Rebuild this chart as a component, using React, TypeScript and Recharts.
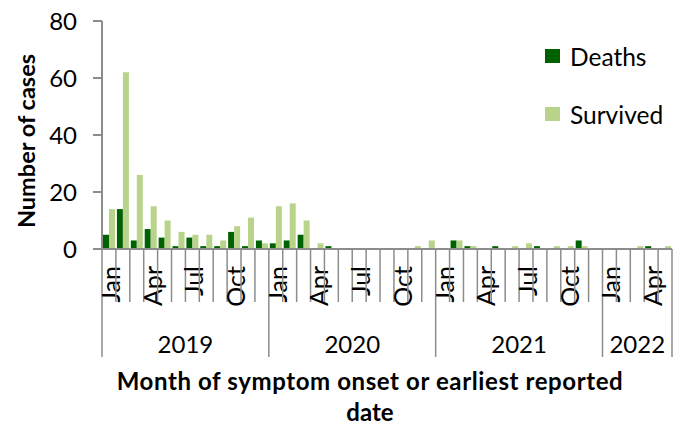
import React from 'react';
import { BarChart, Bar, XAxis, YAxis, Label } from 'recharts';

const monthNames = ['Jan', 'Feb', 'Mar', 'Apr', 'May', 'Jun', 'Jul', 'Aug', 'Sep', 'Oct', 'Nov', 'Dec'];
const years = ['2019', '2020', '2021', '2022'];
const monthsInYear = [12, 12, 12, 5];
const labelledMonths = ['Jan', 'Apr', 'Jul', 'Oct'];

const deaths = [
  5, 14, 3, 7, 4, 1, 4, 1, 1, 6, 1, 3,
  2, 3, 5, 0, 1, 0, 0, 0, 0, 0, 0, 0,
  0, 3, 1, 0, 1, 0, 0, 1, 0, 0, 3, 0,
  0, 0, 0, 1, 0,
];
const survived = [
  14, 62, 26, 15, 10, 6, 5, 5, 3, 8, 11, 2,
  15, 16, 10, 2, 0, 0, 0, 0, 0, 0, 1, 3,
  0, 3, 1, 0, 0, 1, 2, 0, 1, 1, 1, 0,
  0, 0, 1, 0, 1,
];
const yTicks = [0, 20, 40, 60, 80];

const seriesNames = ['Deaths', 'Survived'];
const seriesKeys = ['deaths', 'survived'];
const seriesColors = ['#006100', '#b9d38a'];

type Row = { id: number; year: string; month: string; first: boolean; yearLen: number; deaths: number; survived: number };
const data: Row[] = [];
{
  let k = 0;
  years.forEach((yr, yi) => {
    for (let m = 0; m < monthsInYear[yi]; m++) {
      data.push({ id: k, year: yr, month: monthNames[m], first: m === 0, yearLen: monthsInYear[yi], deaths: deaths[k], survived: survived[k] });
      k++;
    }
  });
}

const FONT = 'Lato, "Open Sans", sans-serif';
const AXIS = '#8c8c8c';
const W = 682;
const H = 428;
const MARGIN = { top: 21, right: 10, left: 2, bottom: 0 };
const YW = 100;
const XH = 179;

const MonthTick = (props: any) => {
  const { x, y, payload } = props;
  const d = data[payload.value];
  if (!d) return null;
  const half = payload.offset || (W - MARGIN.left - YW - MARGIN.right) / data.length / 2;
  const band = half * 2;
  const left = x - half;
  const isLast = d.id === data.length - 1;
  return (
    <g>
      <line x1={left} x2={left} y1={y} y2={y + (d.first ? 108 : 53)} stroke={AXIS} strokeWidth={1.5} />
      {isLast && <line x1={x + half} x2={x + half} y1={y} y2={y + 108} stroke={AXIS} strokeWidth={1.5} />}
      {labelledMonths.includes(d.month) && (
        <text
          x={x + 2}
          y={y + 17}
          transform={`rotate(-90, ${x + 2}, ${y + 17})`}
          textAnchor="end"
          dy="0.36em"
          fontFamily={FONT}
          fontSize={25}
          fill="#000"
        >
          {d.month}
        </text>
      )}
      {d.first && (
        <text x={left + (d.yearLen * band) / 2} y={y + 104} textAnchor="middle" fontFamily={FONT} fontSize={24} fill="#000">
          {d.year}
        </text>
      )}
    </g>
  );
};

const XTitle = () => (
  <g>
    <text x={370} y={390} textAnchor="middle" fontFamily={FONT} fontWeight="bold" fontSize={24} letterSpacing={0.6} fill="#000">
      Month of symptom onset or earliest reported
    </text>
    <text x={370} y={421} textAnchor="middle" fontFamily={FONT} fontWeight="bold" fontSize={24} fill="#000">
      date
    </text>
  </g>
);

const YTitle = () => (
  <text
    x={27}
    y={141}
    transform="rotate(-90, 27, 141)"
    textAnchor="middle"
    dy="0.36em"
    fontFamily={FONT}
    fontWeight="bold"
    fontSize={23.5}
    fill="#000"
  >
    Number of cases
  </text>
);

export default function App() {
  return (
    <div style={{ position: 'absolute', left: 0, top: 0, width: W, height: H, background: '#fff' }}>
      <BarChart width={W} height={H} data={data} margin={MARGIN} barGap={0} barSize={6}>
        <XAxis
          dataKey="id"
          type="category"
          interval={0}
          height={XH}
          tickSize={0}
          tickMargin={0}
          tickLine={false}
          axisLine={{ stroke: AXIS, strokeWidth: 2 }}
          tick={<MonthTick />}
        >
          <Label content={<XTitle />} />
        </XAxis>
        <YAxis
          width={YW}
          domain={[0, 80]}
          ticks={yTicks}
          interval={0}
          tickSize={9}
          tickMargin={16}
          axisLine={{ stroke: AXIS, strokeWidth: 2 }}
          tickLine={{ stroke: AXIS, strokeWidth: 2 }}
          tick={{ fill: '#000', fontSize: 24, fontFamily: FONT }}
        >
          <Label content={<YTitle />} />
        </YAxis>
        {seriesKeys.map((k, i) => (
          <Bar key={k} dataKey={k} name={seriesNames[i]} fill={seriesColors[i]} isAnimationActive={false} />
        ))}
      </BarChart>
      <div style={{ position: 'absolute', left: 545, top: 47, fontFamily: FONT, fontSize: 24.5, color: '#000' }}>
        {seriesNames.map((n, i) => (
          <div key={n} style={{ position: 'absolute', left: 0, top: i * 58, display: 'flex', alignItems: 'center', height: 18, whiteSpace: 'nowrap' }}>
            <span style={{ display: 'inline-block', width: 15, height: 14, background: seriesColors[i] }} />
            <span style={{ marginLeft: 10 }}>{n}</span>
          </div>
        ))}
      </div>
    </div>
  );
}
